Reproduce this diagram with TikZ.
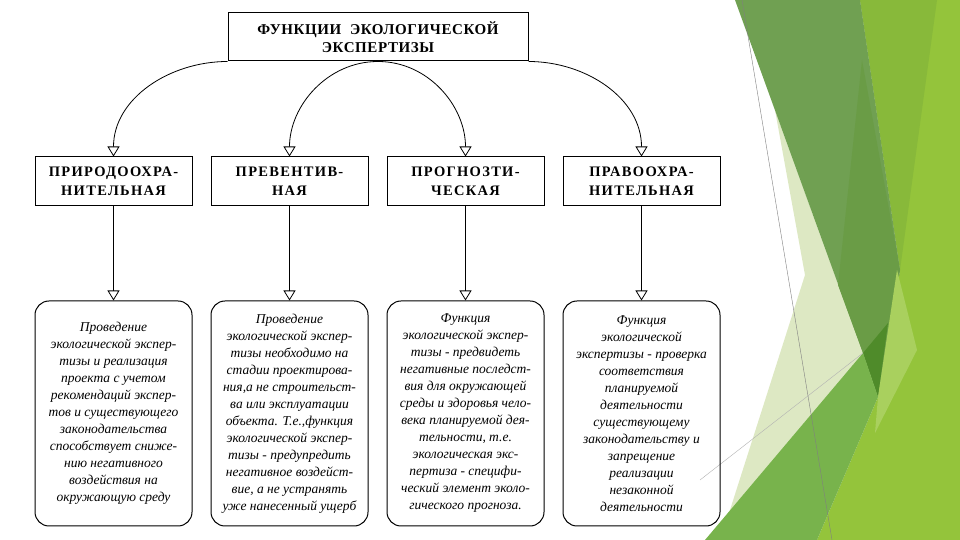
\documentclass[tikz,border=0pt]{standalone}
\usepackage{fontspec}
\setmainfont{Liberation Serif}
\usepackage{xcolor}
\usetikzlibrary{positioning,arrows.meta}

\definecolor{glime}{HTML}{94C43B}
\definecolor{gband}{HTML}{88B93A}
\definecolor{gmid}{HTML}{70A052}
\definecolor{gmiddark}{HTML}{6A9C46}
\definecolor{gdeep}{HTML}{4F8B2A}
\definecolor{gpale}{HTML}{DDE8C3}
\definecolor{gsliver}{HTML}{A9D05E}
\definecolor{gbot}{HTML}{78B34C}

\begin{document}
\begin{tikzpicture}[
  x=1pt, y=1pt,
  node distance=18pt and 18pt,
  head/.style={draw,line width=1pt,minimum width=300pt,minimum height=48pt,
               align=center,inner sep=2pt,
               font=\fontsize{15}{18}\selectfont\bfseries\addfontfeature{LetterSpace=4}},
  func/.style={draw,line width=1pt,minimum width=157pt,minimum height=49pt,
               align=center,inner sep=2pt,
               font=\fontsize{14.5}{19}\selectfont\bfseries\addfontfeature{LetterSpace=9}},
  note/.style={draw,line width=1pt,rounded corners=14pt,minimum width=157pt,
               minimum height=225pt,align=center,inner sep=2pt,
               font=\fontsize{13.5}{17}\selectfont\itshape},
  arr/.style={-{Triangle[open,length=10pt,width=12pt]},line width=0.8pt}
]
\useasboundingbox (0,0) rectangle (960,540);
\fill[white] (0,0) rectangle (960,540);

% background of the slide
\begin{scope}[shift={(0,540)},yscale=-1]
  \fill[glime] (860,0) -- (960,0) -- (960,540) -- (817,540) -- (878,397) -- (900,270) -- cycle;
  \fill[gband] (860,0) -- (937,0) -- (900,270) -- cycle;
  \fill[gpale] (775,110) -- (805,275) -- (722,535) -- (863,353) -- cycle;
  \fill[gmid] (735,0) -- (860,0) -- (900,270) -- (878,397) -- (863,353) -- cycle;
  \fill[gmiddark] (862,60) -- (900,270) -- (878,397) -- (863,353) -- (838,285) -- cycle;
  \fill[gdeep] (863,353) -- (888,323) -- (878,397) -- cycle;
  \fill[gsliver] (897,270) -- (917,350) -- (875,433) -- (878,397) -- cycle;
  \fill[gbot] (705,540) -- (863,353) -- (878,397) -- (817,540) -- cycle;
  \draw[gray,line width=0.4pt] (742,0) -- (832,540);
  \draw[gray!60,line width=0.4pt] (700,480) -- (863,353);
\end{scope}

\node[head] (title) at (378,503) {ФУНКЦИИ\ \ ЭКОЛОГИЧЕСКОЙ\\ЭКСПЕРТИЗЫ};

\node[func] (nat) at (113.5,358.5) {ПРИРОДООХРА-\\НИТЕЛЬНАЯ};
\node[func, right=of nat] (prev) {ПРЕВЕНТИВ-\\НАЯ};
\node[func, right=of prev] (prog) {ПРОГНОЗТИ-\\ЧЕСКАЯ};
\node[func, right=of prog] (prav) {ПРАВООХРА-\\НИТЕЛЬНАЯ};

\node[note, below=94pt of nat] (natd) {Проведение\\экологической экспер-\\тизы и реализация\\
  проекта с учетом\\рекомендаций экспер-\\тов и существующего\\законодательства\\
  способствует сниже-\\нию негативного\\воздействия на\\окружающую среду};
\node[note, below=94pt of prev] (prevd) {Проведение\\экологической экспер-\\тизы необходимо на\\
  стадии проектирова-\\ния,а не строительст-\\ва или эксплуатации\\объекта. Т.е.,функция\\
  экологической экспер-\\тизы - предупредить\\негативное воздейст-\\вие, а не устранять\\
  уже нанесенный ущерб};
\node[note, below=94pt of prog] (progd) {Функция\\экологической экспер-\\тизы - предвидеть\\
  негативные последст-\\вия для окружающей\\среды и здоровья чело-\\века планируемой дея-\\
  тельности, т.е.\\экологическая экс-\\пертиза - специфи-\\ческий элемент эколо-\\
  гического прогноза.};
\node[note, below=94pt of prav] (pravd) {Функция\\экологической\\экспертизы - проверка\\
  соответствия\\планируемой\\деятельности\\существующему\\законодательству и\\
  запрещение\\реализации\\незаконной\\деятельности};

\draw[arr] (title.south west) to[out=180,in=90] (nat.north);
\draw[arr] (title.south) to[out=180,in=90] (prev.north);
\draw[arr] (title.south) to[out=0,in=90] (prog.north);
\draw[arr] (title.south east) to[out=0,in=90] (prav.north);

\draw[arr] (nat) -- (natd);
\draw[arr] (prev) -- (prevd);
\draw[arr] (prog) -- (progd);
\draw[arr] (prav) -- (pravd);
\end{tikzpicture}
\end{document}
